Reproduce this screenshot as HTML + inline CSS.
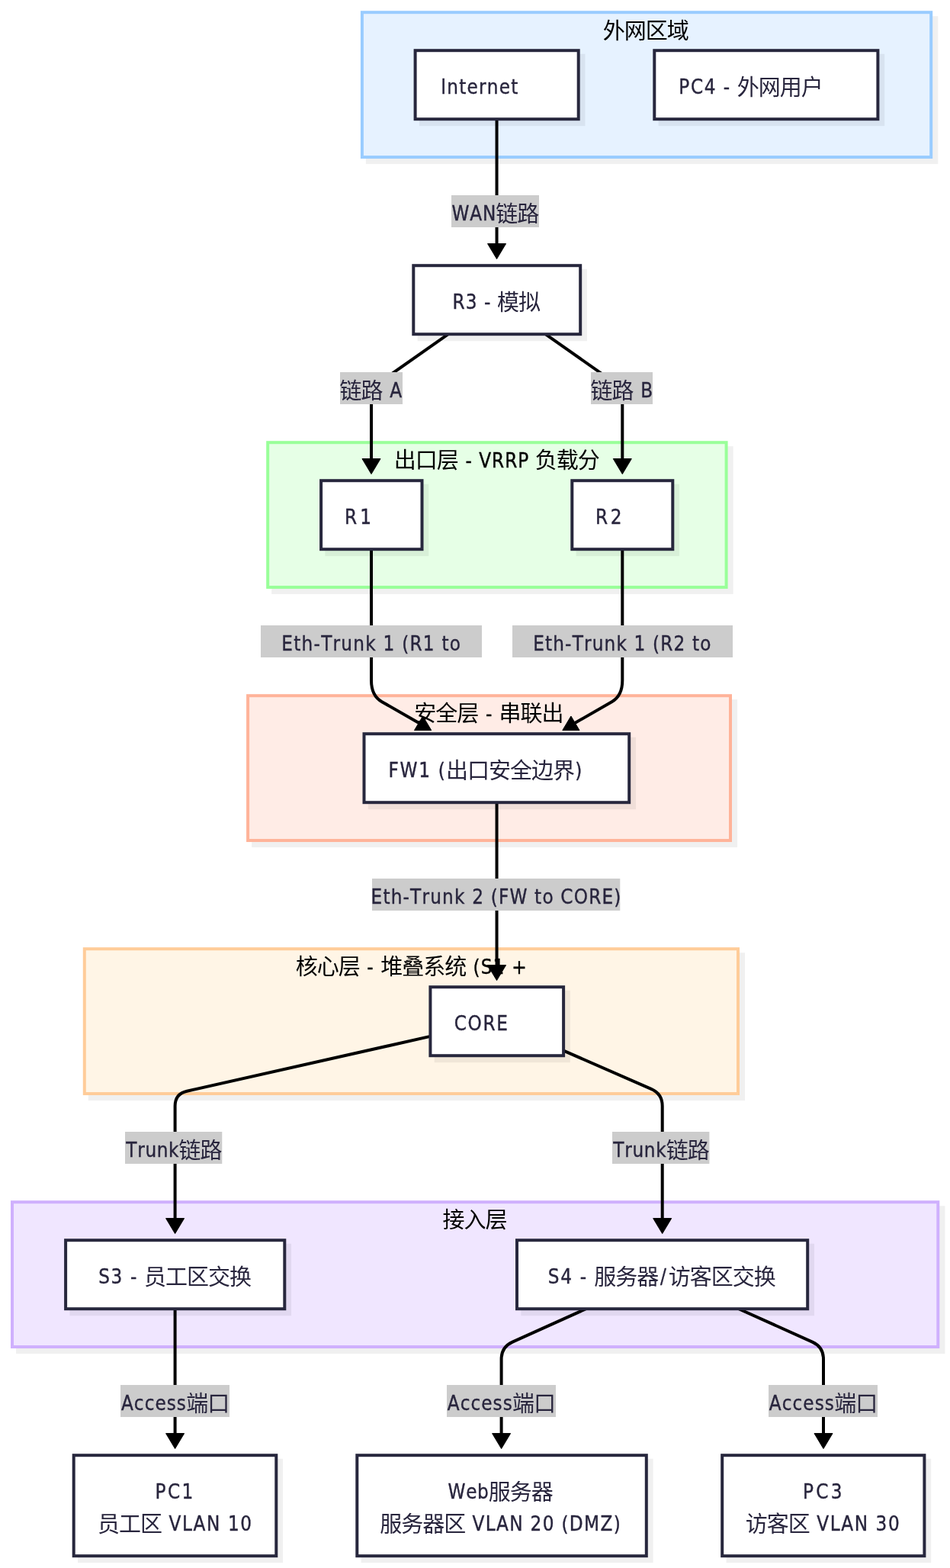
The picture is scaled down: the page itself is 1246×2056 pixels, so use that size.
<!DOCTYPE html>
<html lang="zh-CN">
<head>
<meta charset="utf-8">
<title>网络拓扑</title>
<style>
html,body{margin:0;padding:0;background:#ffffff;}
body{width:1246px;height:2056px;overflow:hidden;font-family:"Liberation Sans","Noto Sans CJK SC",sans-serif;}
svg{display:block;will-change:transform;}
svg text{white-space:pre;}
</style>
</head>
<body>
<svg width="1246" height="2056" viewBox="0 0 1246 2056">
<rect x="479.90" y="21.20" width="750.40" height="193.90" fill="#000" fill-opacity="0.06"/>
<rect x="356.20" y="585.20" width="605.50" height="193.90" fill="#000" fill-opacity="0.06"/>
<rect x="330.10" y="917.20" width="637.00" height="193.90" fill="#000" fill-opacity="0.06"/>
<rect x="115.80" y="1249.20" width="861.30" height="193.90" fill="#000" fill-opacity="0.06"/>
<rect x="21.00" y="1581.20" width="1218.40" height="193.90" fill="#000" fill-opacity="0.06"/>
<rect x="474.90" y="16.20" width="746.30" height="189.85" fill="#e6f2ff" stroke="#99ccff" stroke-width="4"/>
<text fill="#000000" xml:space="preserve"><tspan x="790.80 818.80 846.80 874.80" y="50.50" font-family='"Noto Sans CJK SC", "WenQuanYi Zen Hei", sans-serif' font-size="29.0" font-weight="400">外网区域</tspan></text>
<rect x="351.20" y="580.20" width="601.40" height="189.85" fill="#e6ffe6" stroke="#99ff99" stroke-width="4"/>
<text fill="#000000" xml:space="preserve"><tspan x="516.80 544.80 572.80" y="614.40" font-family='"Noto Sans CJK SC", "WenQuanYi Zen Hei", sans-serif' font-size="29.0" font-weight="400">出口层</tspan><tspan x="602.30 610.62 619.95 628.26 645.09 662.16 679.24 694.18" y="612.60" font-family='"DejaVu Sans Condensed", "DejaVu Sans", "Liberation Sans", sans-serif' font-size="25.8" font-stretch="condensed" stroke="#000000" stroke-width="0.35"> - VRRP </tspan><tspan x="701.80 729.80 757.80" y="614.40" font-family='"Noto Sans CJK SC", "WenQuanYi Zen Hei", sans-serif' font-size="29.0" font-weight="400">负载分</tspan></text>
<rect x="325.10" y="912.20" width="632.90" height="189.85" fill="#ffece6" stroke="#ffb399" stroke-width="4"/>
<text fill="#000000" xml:space="preserve"><tspan x="543.30 571.30 599.30" y="946.40" font-family='"Noto Sans CJK SC", "WenQuanYi Zen Hei", sans-serif' font-size="29.0" font-weight="400">安全层</tspan><tspan x="627.80 637.00 647.20" y="944.60" font-family='"DejaVu Sans Condensed", "DejaVu Sans", "Liberation Sans", sans-serif' font-size="25.8" font-stretch="condensed" stroke="#000000" stroke-width="0.35"> - </tspan><tspan x="654.50 682.50 710.50" y="946.40" font-family='"Noto Sans CJK SC", "WenQuanYi Zen Hei", sans-serif' font-size="29.0" font-weight="400">串联出</tspan></text>
<rect x="110.80" y="1244.20" width="857.20" height="189.85" fill="#fff5e6" stroke="#ffcc99" stroke-width="4"/>
<text fill="#000000" xml:space="preserve"><tspan x="387.70 415.70 443.70" y="1278.40" font-family='"Noto Sans CJK SC", "WenQuanYi Zen Hei", sans-serif' font-size="29.0" font-weight="400">核心层</tspan><tspan x="472.20 481.13 491.07" y="1276.60" font-family='"DejaVu Sans Condensed", "DejaVu Sans", "Liberation Sans", sans-serif' font-size="25.8" font-stretch="condensed" stroke="#000000" stroke-width="0.35"> - </tspan><tspan x="499.30 527.30 555.30 583.30" y="1278.40" font-family='"Noto Sans CJK SC", "WenQuanYi Zen Hei", sans-serif' font-size="29.0" font-weight="400">堆叠系统</tspan><tspan x="611.80 620.39 630.66 646.62 662.61 671.19" y="1276.60" font-family='"DejaVu Sans Condensed", "DejaVu Sans", "Liberation Sans", sans-serif' font-size="25.8" font-stretch="condensed" stroke="#000000" stroke-width="0.35"> (S1 +</tspan></text>
<rect x="16.00" y="1576.20" width="1214.30" height="189.85" fill="#f0e6ff" stroke="#cfb0fd" stroke-width="4"/>
<text fill="#000000" xml:space="preserve"><tspan x="580.50 608.50 636.50" y="1610.40" font-family='"Noto Sans CJK SC", "WenQuanYi Zen Hei", sans-serif' font-size="29.0" font-weight="400">接入层</tspan></text>
<path d="M651.55,156 L651.55,320.55" fill="none" stroke="#000000" stroke-width="4" stroke-linejoin="round"/>
<polygon points="639.55,319.55 663.55,319.55 651.55,339.55" fill="#000000" stroke="#000000" stroke-width="1" stroke-linejoin="round"/>
<path d="M587.90,438.20 L500.10,499.81 Q487.00,509.00 487.00,525.00 L487.00,602.55" fill="none" stroke="#000000" stroke-width="4" stroke-linejoin="round"/>
<polygon points="475.00,601.55 499.00,601.55 487.00,621.55" fill="#000000" stroke="#000000" stroke-width="1" stroke-linejoin="round"/>
<path d="M715.40,438.20 L803.20,499.81 Q816.30,509.00 816.30,525.00 L816.30,602.55" fill="none" stroke="#000000" stroke-width="4" stroke-linejoin="round"/>
<polygon points="804.30,601.55 828.30,601.55 816.30,621.55" fill="#000000" stroke="#000000" stroke-width="1" stroke-linejoin="round"/>
<path d="M487.00,720.00 L487.00,892.20 Q487.00,912.20 500.88,920.17 L552.50,949.80" fill="none" stroke="#000000" stroke-width="4" stroke-linejoin="round"/>
<polygon points="543.50,957.60 565.70,957.60 554.60,939.00" fill="#000000" stroke="#000000" stroke-width="1" stroke-linejoin="round"/>
<path d="M816.30,720.00 L816.30,892.20 Q816.30,912.20 802.43,920.18 L751.00,949.80" fill="none" stroke="#000000" stroke-width="4" stroke-linejoin="round"/>
<polygon points="737.80,957.60 760.00,957.60 748.90,939.00" fill="#000000" stroke="#000000" stroke-width="1" stroke-linejoin="round"/>
<path d="M651.55,1052 L651.55,1266.55" fill="none" stroke="#000000" stroke-width="4" stroke-linejoin="round"/>
<polygon points="639.55,1265.55 663.55,1265.55 651.55,1285.55" fill="#000000" stroke="#000000" stroke-width="1" stroke-linejoin="round"/>
<path d="M564.40,1358.90 L245.21,1430.69 Q229.60,1434.20 229.60,1450.20 L229.60,1598.55" fill="none" stroke="#000000" stroke-width="4" stroke-linejoin="round"/>
<polygon points="217.60,1597.55 241.60,1597.55 229.60,1617.55" fill="#000000" stroke="#000000" stroke-width="1" stroke-linejoin="round"/>
<path d="M739.10,1377.60 L854.04,1427.80 Q868.70,1434.20 868.70,1450.20 L868.70,1598.55" fill="none" stroke="#000000" stroke-width="4" stroke-linejoin="round"/>
<polygon points="856.70,1597.55 880.70,1597.55 868.70,1617.55" fill="#000000" stroke="#000000" stroke-width="1" stroke-linejoin="round"/>
<path d="M229.6,1716 L229.6,1880.55" fill="none" stroke="#000000" stroke-width="4" stroke-linejoin="round"/>
<polygon points="217.60,1879.55 241.60,1879.55 229.60,1899.55" fill="#000000" stroke="#000000" stroke-width="1" stroke-linejoin="round"/>
<path d="M768.50,1716.20 L672.19,1759.62 Q657.60,1766.20 657.60,1782.20 L657.60,1880.55" fill="none" stroke="#000000" stroke-width="4" stroke-linejoin="round"/>
<polygon points="645.60,1879.55 669.60,1879.55 657.60,1899.55" fill="#000000" stroke="#000000" stroke-width="1" stroke-linejoin="round"/>
<path d="M969.00,1716.20 L1065.41,1759.63 Q1080.00,1766.20 1080.00,1782.20 L1080.00,1880.55" fill="none" stroke="#000000" stroke-width="4" stroke-linejoin="round"/>
<polygon points="1068.00,1879.55 1092.00,1879.55 1080.00,1899.55" fill="#000000" stroke="#000000" stroke-width="1" stroke-linejoin="round"/>
<rect x="592.00" y="256.00" width="115.00" height="42.00" fill="#cccccc"/>
<text fill="#28253d" xml:space="preserve"><tspan x="592.53 616.24 632.88" y="289.25" font-family='"DejaVu Sans Condensed", "DejaVu Sans", "Liberation Sans", sans-serif' font-size="25.8" font-stretch="condensed" stroke="#28253d" stroke-width="0.35">WAN</tspan><tspan x="650.30 678.30" y="291.05" font-family='"Noto Sans CJK SC", "WenQuanYi Zen Hei", sans-serif' font-size="29.0" font-weight="400">链路</tspan></text>
<rect x="446.00" y="488.00" width="82.00" height="42.00" fill="#cccccc"/>
<text fill="#28253d" xml:space="preserve"><tspan x="445.50 473.50" y="523.05" font-family='"Noto Sans CJK SC", "WenQuanYi Zen Hei", sans-serif' font-size="29.0" font-weight="400">链路</tspan><tspan x="502.00 511.30" y="521.25" font-family='"DejaVu Sans Condensed", "DejaVu Sans", "Liberation Sans", sans-serif' font-size="25.8" font-stretch="condensed" stroke="#28253d" stroke-width="0.35"> A</tspan></text>
<rect x="775.00" y="488.00" width="81.00" height="42.00" fill="#cccccc"/>
<text fill="#28253d" xml:space="preserve"><tspan x="774.40 802.40" y="523.05" font-family='"Noto Sans CJK SC", "WenQuanYi Zen Hei", sans-serif' font-size="29.0" font-weight="400">链路</tspan><tspan x="830.90 840.31" y="521.25" font-family='"DejaVu Sans Condensed", "DejaVu Sans", "Liberation Sans", sans-serif' font-size="25.8" font-stretch="condensed" stroke="#28253d" stroke-width="0.35"> B</tspan></text>
<rect x="342.00" y="820.00" width="290.00" height="42.00" fill="#cccccc"/>
<text fill="#28253d" xml:space="preserve"><tspan x="369.33 385.24 395.57 411.53 421.14 436.56 447.33 463.29 479.24 493.92 502.53 518.54 527.15 537.45 554.81 570.82 579.43 589.76" y="853.25" font-family='"DejaVu Sans Condensed", "DejaVu Sans", "Liberation Sans", sans-serif' font-size="25.8" font-stretch="condensed" stroke="#28253d" stroke-width="0.35">Eth-Trunk 1 (R1 to</tspan></text>
<rect x="672.00" y="820.00" width="289.00" height="42.00" fill="#cccccc"/>
<text fill="#28253d" xml:space="preserve"><tspan x="699.13 714.96 725.22 741.10 750.64 765.97 776.67 792.55 808.43 823.04 831.57 847.50 856.03 866.25 883.54 899.47 908.00 918.26" y="853.25" font-family='"DejaVu Sans Condensed", "DejaVu Sans", "Liberation Sans", sans-serif' font-size="25.8" font-stretch="condensed" stroke="#28253d" stroke-width="0.35">Eth-Trunk 1 (R2 to</tspan></text>
<rect x="488.00" y="1152.00" width="325.30" height="42.00" fill="#cccccc"/>
<text fill="#28253d" xml:space="preserve"><tspan x="486.53 502.38 512.66 528.55 538.11 553.47 564.19 580.08 595.98 610.61 619.16 635.11 643.66 653.90 668.44 692.57 701.12 711.40 726.78 735.33 752.73 772.18 789.49 805.33" y="1185.25" font-family='"DejaVu Sans Condensed", "DejaVu Sans", "Liberation Sans", sans-serif' font-size="25.8" font-stretch="condensed" stroke="#28253d" stroke-width="0.35">Eth-Trunk 2 (FW to CORE)</tspan></text>
<rect x="164.00" y="1484.00" width="127.30" height="42.00" fill="#cccccc"/>
<text fill="#28253d" xml:space="preserve"><tspan x="165.37 180.20 190.38 205.75 221.11" y="1517.25" font-family='"DejaVu Sans Condensed", "DejaVu Sans", "Liberation Sans", sans-serif' font-size="25.8" font-stretch="condensed" stroke="#28253d" stroke-width="0.35">Trunk</tspan><tspan x="234.50 262.50" y="1519.05" font-family='"Noto Sans CJK SC", "WenQuanYi Zen Hei", sans-serif' font-size="29.0" font-weight="400">链路</tspan></text>
<rect x="803.00" y="1484.00" width="127.40" height="42.00" fill="#cccccc"/>
<text fill="#28253d" xml:space="preserve"><tspan x="804.37 819.24 829.46 844.87 860.27" y="1517.25" font-family='"DejaVu Sans Condensed", "DejaVu Sans", "Liberation Sans", sans-serif' font-size="25.8" font-stretch="condensed" stroke="#28253d" stroke-width="0.35">Trunk</tspan><tspan x="873.70 901.70" y="1519.05" font-family='"Noto Sans CJK SC", "WenQuanYi Zen Hei", sans-serif' font-size="29.0" font-weight="400">链路</tspan></text>
<rect x="158.00" y="1816.00" width="143.00" height="42.00" fill="#cccccc"/>
<text fill="#28253d" xml:space="preserve"><tspan x="158.92 175.83 189.63 203.42 218.74 231.87" y="1849.25" font-family='"DejaVu Sans Condensed", "DejaVu Sans", "Liberation Sans", sans-serif' font-size="25.8" font-stretch="condensed" stroke="#28253d" stroke-width="0.35">Access</tspan><tspan x="244.30 272.30" y="1851.05" font-family='"Noto Sans CJK SC", "WenQuanYi Zen Hei", sans-serif' font-size="29.0" font-weight="400">端口</tspan></text>
<rect x="586.00" y="1816.00" width="143.00" height="42.00" fill="#cccccc"/>
<text fill="#28253d" xml:space="preserve"><tspan x="586.72 603.63 617.43 631.22 646.54 659.67" y="1849.25" font-family='"DejaVu Sans Condensed", "DejaVu Sans", "Liberation Sans", sans-serif' font-size="25.8" font-stretch="condensed" stroke="#28253d" stroke-width="0.35">Access</tspan><tspan x="672.10 700.10" y="1851.05" font-family='"Noto Sans CJK SC", "WenQuanYi Zen Hei", sans-serif' font-size="29.0" font-weight="400">端口</tspan></text>
<rect x="1008.00" y="1816.00" width="143.00" height="42.00" fill="#cccccc"/>
<text fill="#28253d" xml:space="preserve"><tspan x="1008.82 1025.73 1039.53 1053.32 1068.64 1081.77" y="1849.25" font-family='"DejaVu Sans Condensed", "DejaVu Sans", "Liberation Sans", sans-serif' font-size="25.8" font-stretch="condensed" stroke="#28253d" stroke-width="0.35">Access</tspan><tspan x="1094.20 1122.20" y="1851.05" font-family='"Noto Sans CJK SC", "WenQuanYi Zen Hei", sans-serif' font-size="29.0" font-weight="400">端口</tspan></text>
<rect x="549.90" y="70.70" width="217.60" height="94.50" fill="#000" fill-opacity="0.06"/>
<rect x="544.60" y="66.20" width="214.10" height="90.00" fill="#ffffff" stroke="#27273d" stroke-width="4"/>
<text fill="#28253d" xml:space="preserve"><tspan x="578.13 586.21 602.16 612.49 628.01 638.78 654.73 670.25" y="122.85" font-family='"DejaVu Sans Condensed", "DejaVu Sans", "Liberation Sans", sans-serif' font-size="25.8" font-stretch="condensed" stroke="#28253d" stroke-width="0.35">Internet</tspan></text>
<rect x="863.60" y="70.70" width="296.60" height="94.50" fill="#000" fill-opacity="0.06"/>
<rect x="858.30" y="66.20" width="293.10" height="90.00" fill="#ffffff" stroke="#27273d" stroke-width="4"/>
<text fill="#28253d" xml:space="preserve"><tspan x="890.33 905.88 923.63 939.95 948.86 958.79" y="122.85" font-family='"DejaVu Sans Condensed", "DejaVu Sans", "Liberation Sans", sans-serif' font-size="25.8" font-stretch="condensed" stroke="#28253d" stroke-width="0.35">PC4 - </tspan><tspan x="966.80 994.80 1022.80 1050.80" y="124.65" font-family='"Noto Sans CJK SC", "WenQuanYi Zen Hei", sans-serif' font-size="29.0" font-weight="400">外网用户</tspan></text>
<rect x="547.60" y="352.70" width="222.40" height="94.50" fill="#000" fill-opacity="0.06"/>
<rect x="542.30" y="348.20" width="218.90" height="90.00" fill="#ffffff" stroke="#27273d" stroke-width="4"/>
<text fill="#28253d" xml:space="preserve"><tspan x="593.43 610.67 626.55 635.03 644.52" y="404.95" font-family='"DejaVu Sans Condensed", "DejaVu Sans", "Liberation Sans", sans-serif' font-size="25.8" font-stretch="condensed" stroke="#28253d" stroke-width="0.35">R3 - </tspan><tspan x="652.10 680.10" y="406.75" font-family='"Noto Sans CJK SC", "WenQuanYi Zen Hei", sans-serif' font-size="29.0" font-weight="400">模拟</tspan></text>
<rect x="426.40" y="634.70" width="135.90" height="94.50" fill="#000" fill-opacity="0.06"/>
<rect x="421.10" y="630.20" width="132.40" height="90.00" fill="#ffffff" stroke="#27273d" stroke-width="4"/>
<text fill="#28253d" xml:space="preserve"><tspan x="451.93 472.37" y="686.85" font-family='"DejaVu Sans Condensed", "DejaVu Sans", "Liberation Sans", sans-serif' font-size="25.8" font-stretch="condensed" stroke="#28253d" stroke-width="0.35">R1</tspan></text>
<rect x="755.60" y="634.70" width="135.50" height="94.50" fill="#000" fill-opacity="0.06"/>
<rect x="750.30" y="630.20" width="132.00" height="90.00" fill="#ffffff" stroke="#27273d" stroke-width="4"/>
<text fill="#28253d" xml:space="preserve"><tspan x="780.93 800.84" y="686.85" font-family='"DejaVu Sans Condensed", "DejaVu Sans", "Liberation Sans", sans-serif' font-size="25.8" font-stretch="condensed" stroke="#28253d" stroke-width="0.35">R2</tspan></text>
<rect x="482.80" y="966.70" width="351.20" height="94.50" fill="#000" fill-opacity="0.06"/>
<rect x="477.50" y="962.20" width="347.70" height="90.00" fill="#ffffff" stroke="#27273d" stroke-width="4"/>
<text fill="#28253d" xml:space="preserve"><tspan x="509.43 524.52 549.20 565.70 574.79" y="1018.85" font-family='"DejaVu Sans Condensed", "DejaVu Sans", "Liberation Sans", sans-serif' font-size="25.8" font-stretch="condensed" stroke="#28253d" stroke-width="0.35">FW1 (</tspan><tspan x="585.10 613.10 641.10 669.10 697.10 725.10" y="1020.65" font-family='"Noto Sans CJK SC", "WenQuanYi Zen Hei", sans-serif' font-size="29.0" font-weight="400">出口安全边界</tspan><tspan x="754.35" y="1018.85" font-family='"DejaVu Sans Condensed", "DejaVu Sans", "Liberation Sans", sans-serif' font-size="25.8" font-stretch="condensed" stroke="#28253d" stroke-width="0.35">)</tspan></text>
<rect x="569.70" y="1298.70" width="178.20" height="94.50" fill="#000" fill-opacity="0.06"/>
<rect x="564.40" y="1294.20" width="174.70" height="90.00" fill="#ffffff" stroke="#27273d" stroke-width="4"/>
<text fill="#28253d" xml:space="preserve"><tspan x="595.70 613.58 633.52 651.31" y="1350.85" font-family='"DejaVu Sans Condensed", "DejaVu Sans", "Liberation Sans", sans-serif' font-size="25.8" font-stretch="condensed" stroke="#28253d" stroke-width="0.35">CORE</tspan></text>
<rect x="91.40" y="1630.70" width="290.70" height="94.50" fill="#000" fill-opacity="0.06"/>
<rect x="86.10" y="1626.20" width="287.20" height="90.00" fill="#ffffff" stroke="#27273d" stroke-width="4"/>
<text fill="#28253d" xml:space="preserve"><tspan x="129.18 145.56 161.96 170.97 180.99" y="1682.85" font-family='"DejaVu Sans Condensed", "DejaVu Sans", "Liberation Sans", sans-serif' font-size="25.8" font-stretch="condensed" stroke="#28253d" stroke-width="0.35">S3 - </tspan><tspan x="189.10 217.10 245.10 273.10 301.10" y="1684.65" font-family='"Noto Sans CJK SC", "WenQuanYi Zen Hei", sans-serif' font-size="29.0" font-weight="400">员工区交换</tspan></text>
<rect x="683.30" y="1630.70" width="384.70" height="94.50" fill="#000" fill-opacity="0.06"/>
<rect x="678.00" y="1626.20" width="381.20" height="90.00" fill="#ffffff" stroke="#27273d" stroke-width="4"/>
<text fill="#28253d" xml:space="preserve"><tspan x="718.78 735.24 751.72 760.81 770.91" y="1682.85" font-family='"DejaVu Sans Condensed", "DejaVu Sans", "Liberation Sans", sans-serif' font-size="25.8" font-stretch="condensed" stroke="#28253d" stroke-width="0.35">S4 - </tspan><tspan x="779.30 807.30 835.30" y="1684.65" font-family='"Noto Sans CJK SC", "WenQuanYi Zen Hei", sans-serif' font-size="29.0" font-weight="400">服务器</tspan><tspan x="865.90" y="1682.85" font-family='"DejaVu Sans Condensed", "DejaVu Sans", "Liberation Sans", sans-serif' font-size="25.8" font-stretch="condensed" stroke="#28253d" stroke-width="0.35">/</tspan><tspan x="876.80 904.80 932.80 960.80 988.80" y="1684.65" font-family='"Noto Sans CJK SC", "WenQuanYi Zen Hei", sans-serif' font-size="29.0" font-weight="400">访客区交换</tspan></text>
<rect x="102.00" y="1912.70" width="269.10" height="136.50" fill="#000" fill-opacity="0.06"/>
<rect x="96.70" y="1908.20" width="265.60" height="132.00" fill="#ffffff" stroke="#27273d" stroke-width="4"/>
<text fill="#28253d" xml:space="preserve"><tspan x="203.43 219.89 238.57" y="1965.00" font-family='"DejaVu Sans Condensed", "DejaVu Sans", "Liberation Sans", sans-serif' font-size="25.8" font-stretch="condensed" stroke="#28253d" stroke-width="0.35">PC1</tspan></text>
<text fill="#28253d" xml:space="preserve"><tspan x="128.10 156.10 184.10" y="2008.80" font-family='"Noto Sans CJK SC", "WenQuanYi Zen Hei", sans-serif' font-size="29.0" font-weight="400">员工区</tspan><tspan x="212.60 221.57 239.05 253.58 271.05 290.02 298.99 315.36" y="2007.00" font-family='"DejaVu Sans Condensed", "DejaVu Sans", "Liberation Sans", sans-serif' font-size="25.8" font-stretch="condensed" stroke="#28253d" stroke-width="0.35"> VLAN 10</tspan></text>
<rect x="473.60" y="1912.70" width="383.00" height="136.50" fill="#000" fill-opacity="0.06"/>
<rect x="468.30" y="1908.20" width="379.50" height="132.00" fill="#ffffff" stroke="#27273d" stroke-width="4"/>
<text fill="#28253d" xml:space="preserve"><tspan x="587.53 611.15 626.10" y="1965.00" font-family='"DejaVu Sans Condensed", "DejaVu Sans", "Liberation Sans", sans-serif' font-size="25.8" font-stretch="condensed" stroke="#28253d" stroke-width="0.35">Web</tspan><tspan x="640.70 668.70 696.70" y="1966.80" font-family='"Noto Sans CJK SC", "WenQuanYi Zen Hei", sans-serif' font-size="29.0" font-weight="400">服务器</tspan></text>
<text fill="#28253d" xml:space="preserve"><tspan x="498.30 526.30 554.30 582.30" y="2008.80" font-family='"Noto Sans CJK SC", "WenQuanYi Zen Hei", sans-serif' font-size="29.0" font-weight="400">服务器区</tspan><tspan x="610.80 619.50 636.70 650.96 668.16 686.85 695.55 711.65 727.75 736.45 746.83 766.04 787.40 804.63" y="2007.00" font-family='"DejaVu Sans Condensed", "DejaVu Sans", "Liberation Sans", sans-serif' font-size="25.8" font-stretch="condensed" stroke="#28253d" stroke-width="0.35"> VLAN 20 (DMZ)</tspan></text>
<rect x="952.50" y="1912.70" width="268.70" height="136.50" fill="#000" fill-opacity="0.06"/>
<rect x="947.20" y="1908.20" width="265.20" height="132.00" fill="#ffffff" stroke="#27273d" stroke-width="4"/>
<text fill="#28253d" xml:space="preserve"><tspan x="1052.93 1070.20 1089.67" y="1965.00" font-family='"DejaVu Sans Condensed", "DejaVu Sans", "Liberation Sans", sans-serif' font-size="25.8" font-stretch="condensed" stroke="#28253d" stroke-width="0.35">PC3</tspan></text>
<text fill="#28253d" xml:space="preserve"><tspan x="977.80 1005.80 1033.80" y="2008.80" font-family='"Noto Sans CJK SC", "WenQuanYi Zen Hei", sans-serif' font-size="29.0" font-weight="400">访客区</tspan><tspan x="1062.30 1071.26 1088.72 1103.23 1120.70 1139.65 1148.60 1164.96" y="2007.00" font-family='"DejaVu Sans Condensed", "DejaVu Sans", "Liberation Sans", sans-serif' font-size="25.8" font-stretch="condensed" stroke="#28253d" stroke-width="0.35"> VLAN 30</tspan></text>
</svg>
</body>
</html>
